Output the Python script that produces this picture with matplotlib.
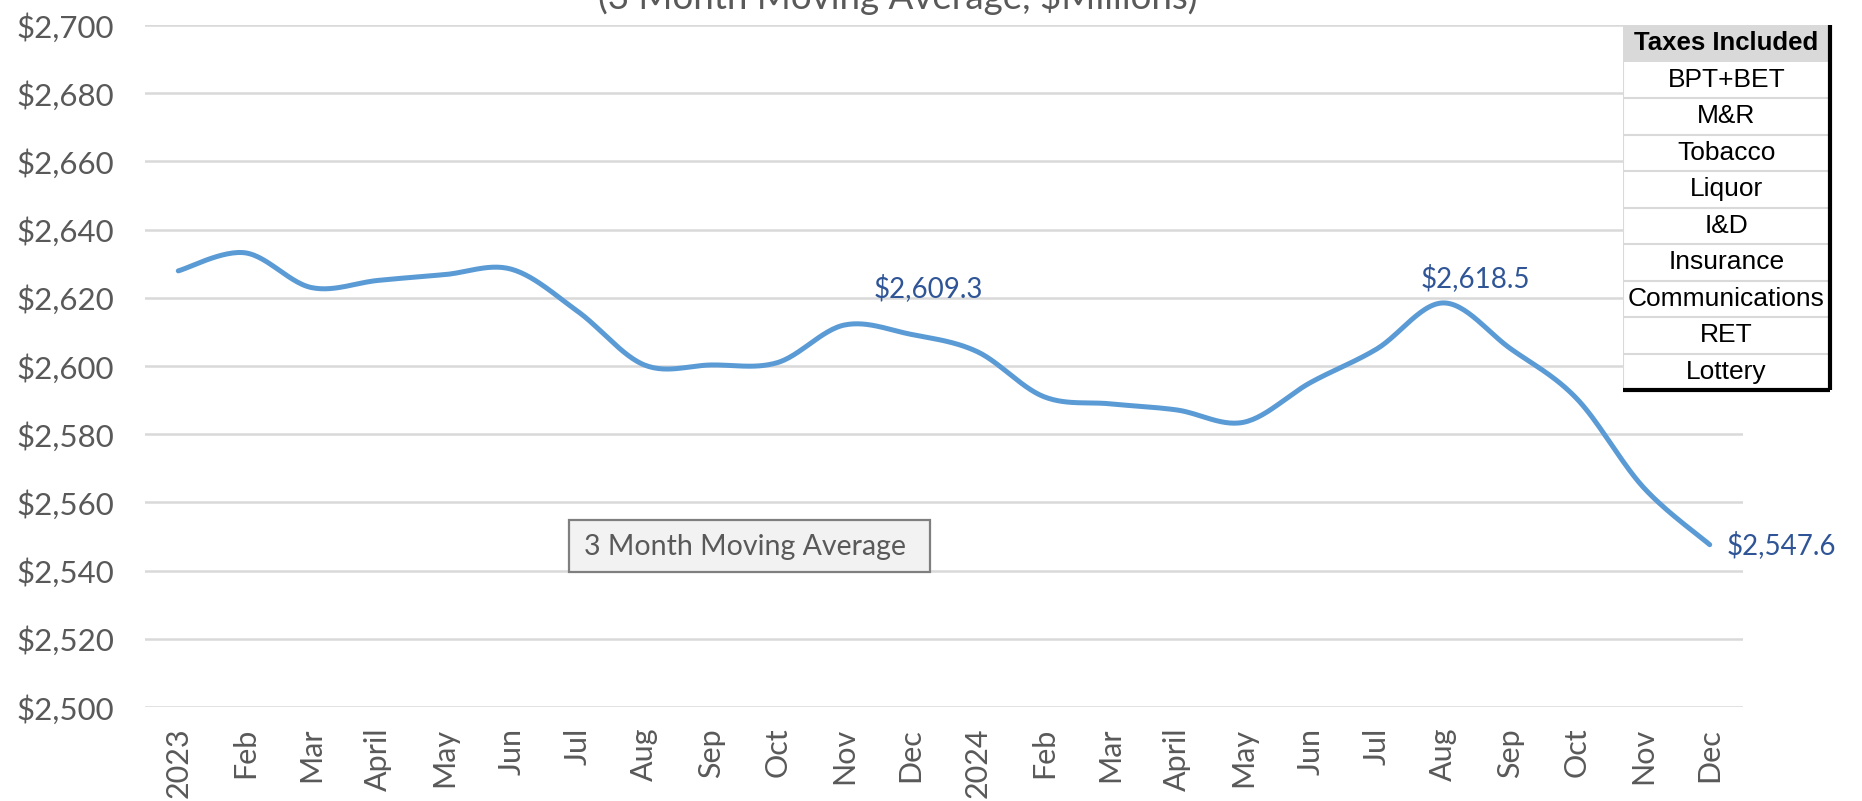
import numpy as np
import matplotlib
matplotlib.use("Agg")
import matplotlib.pyplot as plt
from matplotlib.patches import Rectangle

# ---- data ----
months = ["2023", "Feb", "Mar", "April", "May", "Jun", "Jul", "Aug", "Sep", "Oct", "Nov", "Dec",
          "2024", "Feb", "Mar", "April", "May", "Jun", "Jul", "Aug", "Sep", "Oct", "Nov", "Dec"]
values = [2627.9, 2633.2, 2623.0, 2625.1, 2626.8, 2628.4, 2616.0, 2600.3, 2600.3, 2601.0, 2612.0, 2609.3,
          2604.2, 2591.0, 2588.9, 2587.1, 2583.5, 2595.1, 2605.0, 2618.5, 2605.2, 2590.5, 2564.5, 2547.6]
labeled_idx = [11, 19, 23]
taxes = ["BPT+BET", "M&R", "Tobacco", "Liquor", "I&D", "Insurance", "Communications", "RET", "Lottery"]
title = "(3 Month Moving Average, $Millions)"
box_label = "3 Month Moving Average"

W, H = 1862, 801
fig = plt.figure(figsize=(W / 100, H / 100), dpi=100)
FONT = ["Lato", "DejaVu Sans"]
GRAY = "#595959"

ax = fig.add_axes([145 / W, 1 - 707 / H, (1743 - 145) / W, (707 - 25) / H])
ax.set_xlim(-0.5, len(months) - 0.5)
ax.set_ylim(2500, 2700)
yt = np.arange(2500, 2701, 20)
ax.set_yticks(yt)
ax.set_yticklabels([f"${v:,.0f}" for v in yt], fontsize=22.5, color=GRAY, family=FONT)
ax.set_xticks(range(len(months)))
ax.set_xticklabels(months, rotation=90, fontsize=22, color=GRAY, family=FONT)
ax.tick_params(axis="both", length=0)
ax.tick_params(axis="y", pad=22)
ax.tick_params(axis="x", pad=15)
for s in ax.spines.values():
    s.set_visible(False)
ax.grid(axis="y", color="#d9d9d9", linewidth=1.8)
ax.set_axisbelow(True)

# smoothed line (Catmull-Rom style Bezier, like Excel's smoothing)
x = np.arange(len(values), dtype=float)
y = np.array(values, dtype=float)
xs, ys = [], []
t = np.linspace(0, 1, 30)
n = len(x)
for i in range(n - 1):
    p0 = np.array([x[max(i - 1, 0)], y[max(i - 1, 0)]])
    p1 = np.array([x[i], y[i]])
    p2 = np.array([x[i + 1], y[i + 1]])
    p3 = np.array([x[min(i + 2, n - 1)], y[min(i + 2, n - 1)]])
    c1 = p1 + (p2 - p0) / 6
    c2 = p2 - (p3 - p1) / 6
    b = ((1 - t) ** 3)[:, None] * p1 + (3 * (1 - t) ** 2 * t)[:, None] * c1 + \
        (3 * (1 - t) * t ** 2)[:, None] * c2 + (t ** 3)[:, None] * p2
    xs.extend(b[:, 0]); ys.extend(b[:, 1])
ax.plot(xs, ys, color="#5B9BD5", linewidth=3.6, solid_capstyle="round", zorder=3)

# data labels
LBL = "#2F5597"
ax.annotate(f"${values[11]:,.1f}", (11, values[11]), xytext=(13, 33), textcoords="offset points",
            ha="center", va="center", fontsize=20, color=LBL, family=FONT)
ax.annotate(f"${values[19]:,.1f}", (19, values[19]), xytext=(23, 18), textcoords="offset points",
            ha="center", va="center", fontsize=20, color=LBL, family=FONT)
ax.annotate(f"${values[23]:,.1f}", (23, values[23]), xytext=(12, 0), textcoords="offset points",
            ha="left", va="center", fontsize=20, color=LBL, family=FONT, annotation_clip=False)

# legend-like text box
fig.add_artist(Rectangle((569 / W, 1 - 572 / H), (930 - 569) / W, (572 - 520) / H,
                         transform=fig.transFigure, facecolor="#f2f2f2", edgecolor="#7f7f7f",
                         linewidth=1.6, zorder=5))
fig.text(584 / W, 1 - 547 / H, box_label, ha="left", va="center", fontsize=20.5, color=GRAY,
         family=FONT, zorder=6)

# title (partially cut off at top)
fig.text(898 / W, 1 - 9 / H, title, ha="center", va="baseline", fontsize=26.5, color=GRAY, family=FONT)

# taxes table
tx0, ty0, tx1, ty1 = 1623, 25, 1830, 390
tax = fig.add_axes([tx0 / W, 1 - ty1 / H, (tx1 - tx0) / W, (ty1 - ty0) / H])
nrows = len(taxes) + 1
tax.set_xlim(0, 1)
tax.set_ylim(0, nrows)
tax.axis("off")
TFONT = ["Liberation Sans", "DejaVu Sans"]
tax.add_patch(Rectangle((0, nrows - 1), 1, 1, facecolor="#d9d9d9", edgecolor="none"))
tax.add_patch(Rectangle((0, 0), 1, nrows - 1, facecolor="white", edgecolor="none"))
tax.text(0.5, nrows - 0.5, "Taxes Included", ha="center", va="center", fontsize=18.5,
         fontweight="bold", family=TFONT, color="black")
for i, name in enumerate(taxes):
    yc = nrows - 1.5 - i
    tax.text(0.5, yc, name, ha="center", va="center", fontsize=19, family=TFONT, color="black")
for k in range(1, nrows - 1):
    tax.plot([0, 1], [k, k], color="#d9d9d9", linewidth=1.5)
tax.plot([0, 0], [0, nrows], color="#d9d9d9", linewidth=1.5)
tax.plot([1, 1], [0, nrows], color="black", linewidth=3, solid_capstyle="butt", clip_on=False)
tax.plot([0, 1], [0, 0], color="black", linewidth=3, solid_capstyle="butt", clip_on=False)

fig.savefig("out.png", dpi=100)
